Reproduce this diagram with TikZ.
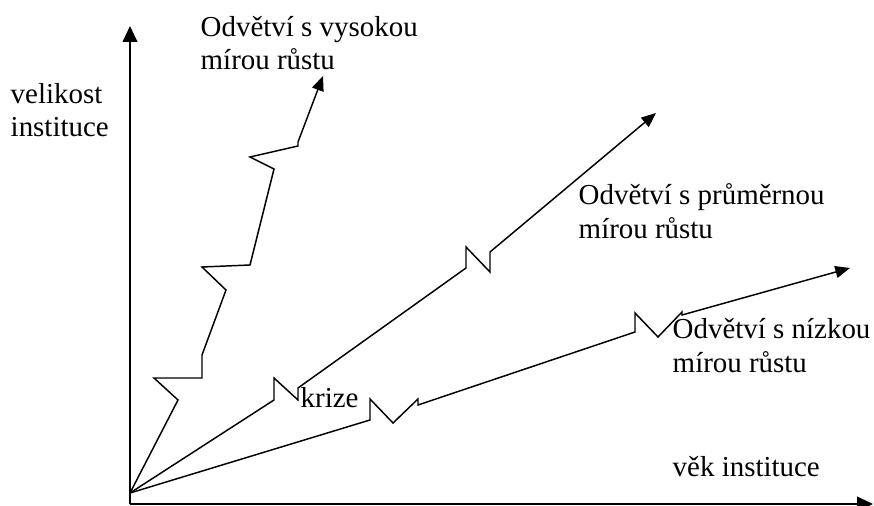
\documentclass[tikz,border=0pt]{standalone}
\usepackage{fontspec}
\setmainfont{Liberation Serif}
\usetikzlibrary{arrows.meta}

\begin{document}
\begin{tikzpicture}[x=0.75pt,y=-0.75pt,line width=1.1pt,
    every node/.style={inner sep=0pt,anchor=base west,align=left,
        font=\fontsize{21.7}{25}\selectfont},
    axis/.style={line width=1.5pt,-{Triangle[length=12pt,width=11pt]}},
    growth/.style={-{Triangle[length=11pt,width=9pt]}}]

    \useasboundingbox (0,0) rectangle (874,506);

    \coordinate (O) at (130,504);
    \coordinate (start) at (130,493);
    \coordinate (ytip) at (130,26);
    \coordinate (xtip) at (873,504);

    \draw[axis] (O) -- (ytip);
    \draw[axis] (O) -- (xtip);

    % base = last line of the text
    \node (vel) at (10,137) {velikost\\instituce};
    \node (vek) at (672,476) {věk instituce};

    % vysoka mira rustu
    \draw[growth] (start) -- (178,400) -- (154,378) -- (202,378) -- (202,355)
        -- (226,290) -- (202,267) -- (250,265) -- (274,169) -- (250,157)
        -- (298,146) -- (298,142) -- (323,76);

    % prumerna mira rustu
    \draw[growth] (start) -- (274,400) -- (274,378) -- (298,400) -- (298,388)
        -- (466,268) -- (466,247) -- (490,272) -- (490,252) -- (656,113);

    % nizka mira rustu
    \draw[growth] (start) -- (370,420) -- (370,399) -- (393,423) -- (418,399)
        -- (418,405) -- (635,332) -- (635,313) -- (658,337) -- (682,312)
        -- (682,315) -- (850,268);

    \node (high) at (200,70) {Odvětví s vysokou\\mírou růstu};
    \node (avg) at (578,238) {Odvětví s průměrnou\\mírou růstu};
    \node (low) at (672,372) {Odvětví s nízkou\\mírou růstu};
    \node (krize) at (300,407) {krize};

\end{tikzpicture}
\end{document}
